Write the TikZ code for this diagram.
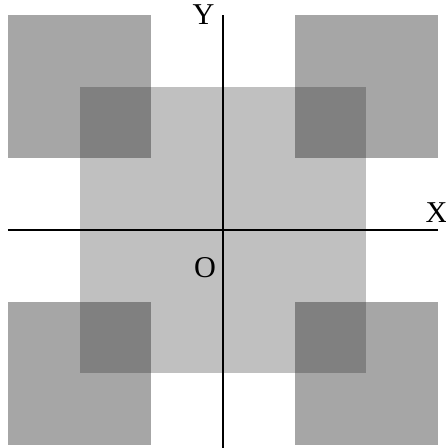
\documentclass[tikz,border=0pt]{standalone}
\usepackage{fontspec}
\setmainfont{Liberation Serif}
\definecolor{cornergray}{RGB}{166,166,166}
\definecolor{centergray}{RGB}{192,192,192}
\definecolor{overlapgray}{RGB}{128,128,128}

\begin{document}
\begin{tikzpicture}[
corner/.style={fill=cornergray},
overlap/.style={fill=overlapgray},
axis/.style={line width=0.7pt, black},
lbl/.style={font=\large, inner sep=0pt}
]
\useasboundingbox (-3.11,-3.04) rectangle (3.10,3.21);
\fill[centergray] (-2,-2) rectangle (2,2);
\foreach \sx in {-1,1}
  \foreach \sy in {-1,1} {
    \fill[corner] (\sx,\sy) rectangle (3*\sx,3*\sy);
    \fill[overlap] (\sx,\sy) rectangle (2*\sx,2*\sy);
  }

\coordinate (xl) at (-3,0);
\coordinate (xr) at (3,0);
\coordinate (yb) at (0,-3.04);
\coordinate (yt) at (0,3);
\draw[axis] (xl) -- (xr);
\draw[axis] (yb) -- (yt);

\node[lbl] (ylabel) at (-0.27,3.0) {Y};
\node[lbl] (xlabel) at (2.98,0.25) {X};
\node[lbl] (origin) at (-0.25,-0.53) {O};
\end{tikzpicture}
\end{document}
